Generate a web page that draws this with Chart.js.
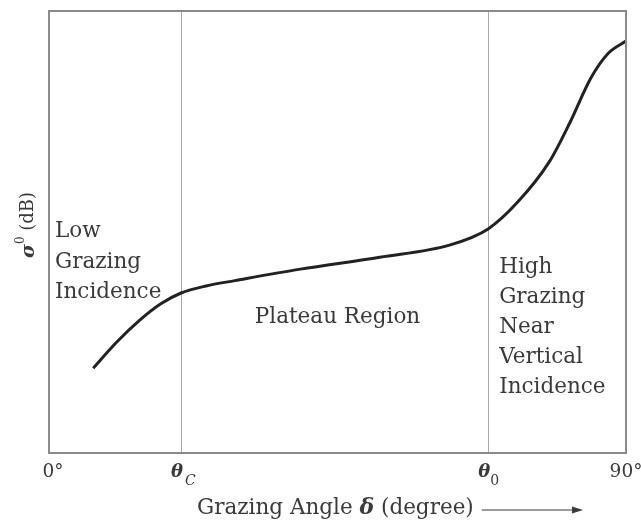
<!DOCTYPE html>
<html>
<head>
<meta charset="utf-8">
<script src="https://cdn.jsdelivr.net/npm/chart.js@4.4.1/dist/chart.umd.min.js"></script>
<style>
  html, body { margin: 0; padding: 0; background: #fff; }
  #wrap { width: 641px; height: 522px; }
</style>
</head>
<body>
<div id="wrap"><canvas id="sigma-chart"></canvas></div>
<script>
// grazing angle (deg) vs backscatter sigma0 (relative dB, 0-100 scale)
const angles = [6.9, 10.5, 14.2, 17.5, 20.6, 24.5, 29.0, 39.2, 51.6, 62.6, 68.5, 73.0, 78.0, 81.2, 84.5, 87.2, 90.0];
const sigma  = [19.2, 25.0, 30.1, 33.8, 36.2, 37.8, 39.0, 41.6, 44.3, 47.1, 50.7, 56.6, 65.8, 74.6, 84.8, 90.4, 93.2];

const thetaC = 20.6;
const theta0 = 68.5;
const tickValues = [0, thetaC, theta0, 90];
const tickMain = ['0°', 'θ', 'θ', '90°'];
const tickSub  = ['', 'C', '0', ''];

const lowLabel = ['Low', 'Grazing', 'Incidence'];
const midLabel = ['Plateau Region'];
const highLabel = ['High', 'Grazing', 'Near', 'Vertical', 'Incidence'];

const SERIF = '"DejaVu Serif", "Liberation Serif", serif';
const TEXT = '#3a3a3a';

const decorations = {
  id: 'decorations',
  afterDraw(chart) {
    const c = chart.ctx;
    const a = chart.chartArea;
    const x = chart.scales.x;

    // frame
    c.save();
    c.strokeStyle = '#8a8a8a';
    c.lineWidth = 2;
    c.strokeRect(a.left, a.top, a.right - a.left, a.bottom - a.top);
    c.restore();

    // tick labels
    c.save();
    c.fillStyle = TEXT;
    c.textBaseline = 'alphabetic';
    tickValues.forEach((v, i) => {
      const px = x.getPixelForValue(v);
      const base = a.bottom + 24;
      if (tickSub[i]) {
        c.font = 'italic bold 18px ' + SERIF;
        const w = c.measureText(tickMain[i]).width;
        c.textAlign = 'left';
        c.fillText(tickMain[i], px - w + 2, base);
        c.font = (tickSub[i] === 'C' ? 'italic ' : '') + '14px ' + SERIF;
        c.fillText(tickSub[i], px + (tickSub[i] === 'C' ? 4 : 2), base + 8);
      } else {
        c.font = '18.5px ' + SERIF;
        c.textAlign = 'center';
        c.fillText(tickMain[i], px + (v === 0 ? 4 : 0), base);
      }
    });
    c.restore();

    // region labels
    c.save();
    c.fillStyle = TEXT;
    c.font = '21.5px ' + SERIF;
    c.textAlign = 'left';
    lowLabel.forEach((t, i) => c.fillText(t, a.left + 6, 237 + i * 30.5));
    c.textAlign = 'center';
    c.fillText(midLabel[0], (a.left + a.right) / 2, 323);
    c.textAlign = 'left';
    highLabel.forEach((t, i) => c.fillText(t, x.getPixelForValue(theta0) + 11, 273 + i * 30));
    c.restore();

    // y title: sigma^0 (dB)
    c.save();
    c.fillStyle = TEXT;
    c.translate(28, 225);
    c.rotate(-Math.PI / 2);
    c.textBaseline = 'middle';
    c.textAlign = 'left';
    c.font = 'italic bold 19px ' + SERIF;
    const ws = c.measureText('σ').width;
    c.font = '12px ' + SERIF;
    const w0 = c.measureText('0').width;
    c.font = '18px ' + SERIF;
    const wd = c.measureText(' (dB)').width;
    let sx = -(ws + w0 + wd) / 2;
    c.font = 'italic bold 19px ' + SERIF;
    c.fillText('σ', sx, 1);
    sx += ws;
    c.font = '12px ' + SERIF;
    c.fillText('0', sx, -7);
    sx += w0;
    c.font = '18px ' + SERIF;
    c.fillText(' (dB)', sx, 0);
    c.restore();

    // x title with arrow
    c.save();
    c.fillStyle = TEXT;
    c.strokeStyle = TEXT;
    c.textAlign = 'left';
    c.textBaseline = 'alphabetic';
    let tx = 197;
    const ty = 514;
    c.font = '21.5px ' + SERIF;
    c.fillText('Grazing Angle ', tx, ty);
    tx += c.measureText('Grazing Angle ').width;
    c.font = 'italic bold 22px ' + SERIF;
    c.fillText('δ', tx, ty);
    tx += c.measureText('δ').width;
    c.font = '21.5px ' + SERIF;
    c.fillText(' (degree)', tx, ty);
    tx += c.measureText(' (degree)').width;
    const ax0 = tx + 8, ax1 = 583, ay = 510;
    c.lineWidth = 1.2;
    c.beginPath();
    c.moveTo(ax0, ay);
    c.lineTo(ax1 - 8, ay);
    c.stroke();
    c.beginPath();
    c.moveTo(ax1, ay);
    c.lineTo(ax1 - 11, ay - 3.5);
    c.lineTo(ax1 - 11, ay + 3.5);
    c.closePath();
    c.fill();
    c.restore();
  }
};

const ctx = document.getElementById('sigma-chart').getContext('2d');
const sigmaChart = new Chart(ctx, {
  type: 'line',
  data: {
    datasets: [{
      data: angles.map((a, i) => ({ x: a, y: sigma[i] })),
      borderColor: '#222',
      borderWidth: 3,
      pointRadius: 0,
      cubicInterpolationMode: 'monotone',
      fill: false
    }]
  },
  options: {
    responsive: true,
    maintainAspectRatio: false,
    animation: false,
    layout: { padding: { left: 49, top: 11, right: 15, bottom: 69 } },
    plugins: {
      legend: { display: false },
      tooltip: { enabled: false }
    },
    scales: {
      x: {
        type: 'linear',
        min: 0,
        max: 90,
        afterBuildTicks: axis => { axis.ticks = tickValues.map(v => ({ value: v })); },
        ticks: { display: false },
        grid: {
          drawTicks: false,
          color: c => (c.tick && (c.tick.value === thetaC || c.tick.value === theta0)) ? '#a8a8a8' : 'rgba(0,0,0,0)',
          lineWidth: 1
        },
        border: { display: false }
      },
      y: {
        display: false,
        min: 0,
        max: 100
      }
    }
  },
  plugins: [decorations]
});
</script>
</body>
</html>
